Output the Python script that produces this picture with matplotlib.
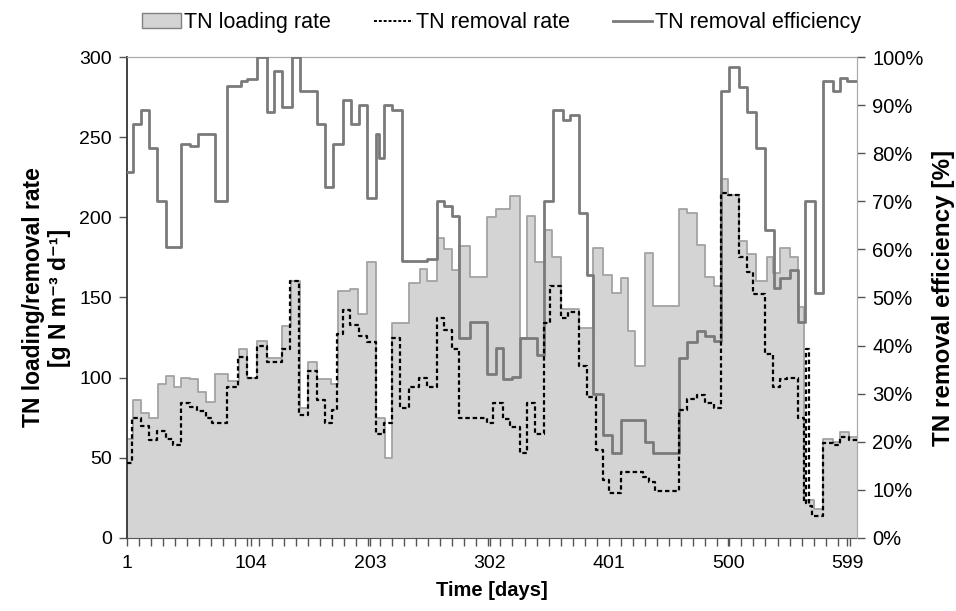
import matplotlib
matplotlib.use("Agg")
import matplotlib.pyplot as plt
from matplotlib.patches import Patch
from matplotlib.lines import Line2D
from matplotlib.ticker import FixedLocator, PercentFormatter

# TN loading rate [g N m-3 d-1], step values starting at given day
load_day = [1, 6, 13, 19, 27, 33, 40, 46, 53, 60, 67, 74, 85, 94, 101, 109, 117,
            130, 137, 145, 151, 159, 170, 176, 186, 193, 200, 208, 215, 221, 235,
            244, 250, 258, 264, 271, 277, 286, 300, 307, 319, 327, 333, 340, 348,
            354, 361, 376, 388, 396, 404, 411, 417, 423, 431, 438, 459, 466, 474,
            481, 488, 494, 500, 509, 516, 523, 532, 537, 543, 551, 558, 563, 571,
            579, 587, 593, 600]
load_val = [62, 86, 78, 75, 96, 101, 94, 100, 99, 91, 85, 102, 98, 118, 100, 123, 112,
            132, 160, 81, 110, 99, 96, 154, 155, 140, 172, 75, 50, 134, 159,
            168, 160, 187, 180, 167, 182, 163, 200, 205, 213, 125, 201, 172, 192,
            175, 143, 131, 181, 164, 153, 162, 129, 107, 178, 145, 205, 203, 183,
            163, 157, 224, 214, 185, 177, 160, 175, 165, 181, 175, 144, 24, 18,
            62, 60, 66, 63]

# TN removal rate [g N m-3 d-1]
rem_day = [1, 5, 13, 19, 26, 33, 39, 46, 53, 59, 67, 72, 84, 93, 101, 109, 117,
           130, 136, 144, 151, 159, 165, 171, 175, 180, 186, 194, 200, 208, 214,
           221, 228, 235, 243, 250, 258, 264, 271, 277, 300, 305, 313, 319, 327,
           333, 340, 347, 352, 361, 367, 376, 383, 390, 396, 401, 411, 429, 434,
           439, 459, 466, 474, 481, 488, 494, 500, 509, 516, 521, 531, 537, 543,
           549, 558, 563, 565, 567, 570, 579, 587, 593, 600]
rem_val = [47, 75, 70, 61, 67, 62, 58, 84, 82, 79, 75, 72, 94, 113, 100, 120, 110,
           118, 160, 77, 104, 86, 72, 80, 127, 142, 133, 126, 122, 65, 72,
           125, 81, 94, 100, 94, 137, 130, 118, 75, 72, 84, 74, 69, 53,
           84, 65, 134, 157, 137, 141, 107, 88, 55, 36, 28, 41, 38, 35,
           29, 80, 87, 89, 84, 81, 215, 214, 175, 166, 152, 115, 94, 99,
           100, 75, 22, 118, 20, 14, 59, 58, 63, 61]

# TN removal efficiency [%]
eff_day = [1, 6, 13, 19, 26, 33, 46, 53, 60, 74, 84, 96, 101, 109, 117, 123, 130,
           138, 145, 159, 165, 172, 180, 187, 194, 200, 208, 210, 214, 221, 229,
           250, 258, 264, 271, 277, 286, 300, 307, 313, 321, 327, 341, 347, 355,
           363, 369, 376, 383, 388, 396, 404, 411, 431, 438, 459, 466, 474, 481,
           488, 494, 501, 509, 516, 523, 531, 538, 543, 551, 558, 564, 572, 579,
           587, 593, 599]
eff_val = [76, 86, 89, 81, 70, 60.5, 82, 81.5, 84, 70, 94, 95, 95.5, 100, 88.5, 97, 89.6,
           100, 93, 86, 73, 82, 91, 86, 90, 70.7, 84, 79, 90, 89, 57.6,
           58, 70, 69, 67, 41.6, 45, 34, 39.5, 33, 33.5, 41.6, 38, 70, 89,
           87, 88, 67.5, 54.7, 30, 21.5, 17.7, 24.5, 20, 17.7, 37.4, 40.7, 43, 42,
           41, 93, 98, 93.7, 88.6, 81, 64, 52, 54, 55.7, 45, 70, 51, 95,
           93, 95.6, 95]

day_end = 607
tick_days = [1, 104, 203, 302, 401, 500, 599]

plt.rcParams["font.family"] = ["Liberation Sans", "DejaVu Sans"]


def ext(days, vals):
    # close the last step at the end of the axis
    return list(days) + [day_end], list(vals) + [vals[-1]]


fig = plt.figure(figsize=(9.56, 6.11), dpi=100)
ax = fig.add_axes([0.1328, 0.1195, 0.7637, 0.7872])
ax2 = ax.twinx()

lx, ly = ext(load_day, load_val)
rx, ry = ext(rem_day, rem_val)
ex, ey = ext(eff_day, eff_val)

ax.fill_between(lx, 0, ly, step="post", facecolor="#d4d4d4", edgecolor="none", zorder=1)
ax.step(lx, ly, where="post", color="#a3a3a3", lw=1.3, zorder=2)
ax2.step(ex, ey, where="post", color="#7a7a7a", lw=2.0, zorder=3)
# removal rate drawn on the twin axis (scaled 300 -> 100) so it sits on top
ax2.step(rx, [v / 3.0 for v in ry], where="post", color="black", lw=1.6,
         ls=(0, (2.0, 1.3)), zorder=4)

ax.set_xlim(1, day_end)
ax.set_ylim(0, 300)
ax2.set_ylim(0, 100)
ax.set_yticks(range(0, 301, 50))
ax2.set_yticks(range(0, 101, 10))
ax2.yaxis.set_major_formatter(PercentFormatter(decimals=0))

ax.set_xticks(tick_days)
ax.xaxis.set_minor_locator(FixedLocator(list(range(11, day_end, 10))))

for a in (ax, ax2):
    a.tick_params(axis="both", which="both", direction="out", labelsize=14,
                  color="#555555", width=1.0)
ax.tick_params(axis="x", which="major", length=6, pad=6)
ax.tick_params(axis="x", which="minor", length=6)
ax.tick_params(axis="y", length=6, pad=5)
ax2.tick_params(axis="y", length=6, pad=5, labelsize=14.5)

ax.spines["left"].set_color("#333333")
ax.spines["left"].set_linewidth(1.3)
ax.spines["bottom"].set_color("#555555")
for s in ("top", "right"):
    ax.spines[s].set_color("#aaaaaa")
    ax2.spines[s].set_color("#aaaaaa")
ax2.spines["left"].set_visible(False)
ax2.spines["bottom"].set_visible(False)

ax.set_xlabel("Time [days]", fontsize=14.5, fontweight="bold", labelpad=7)
ax.set_ylabel("TN loading/removal rate\n[g N m\u207b\u00b3 d\u207b\u00b9]",
              fontsize=16.5, fontweight="bold", labelpad=6, linespacing=1.15)
ax2.set_ylabel("TN removal efficiency [%]", fontsize=17.5, fontweight="bold",
               rotation=90, labelpad=6)

handles = [
    Patch(facecolor="#d4d4d4", edgecolor="#808080", lw=1.0),
    Line2D([], [], color="black", lw=1.4, ls=(0, (1.5, 1))),
    Line2D([], [], color="#7a7a7a", lw=2.0),
]
labels = ["TN loading rate", "TN removal rate", "TN removal efficiency"]
fig.legend(handles, labels, loc="upper center", bbox_to_anchor=(0.525, 1.012),
           ncol=3, frameon=False, fontsize=15.5, handlelength=1.8,
           handletextpad=0.15, columnspacing=2.0)

fig.savefig("out.png", dpi=100)
